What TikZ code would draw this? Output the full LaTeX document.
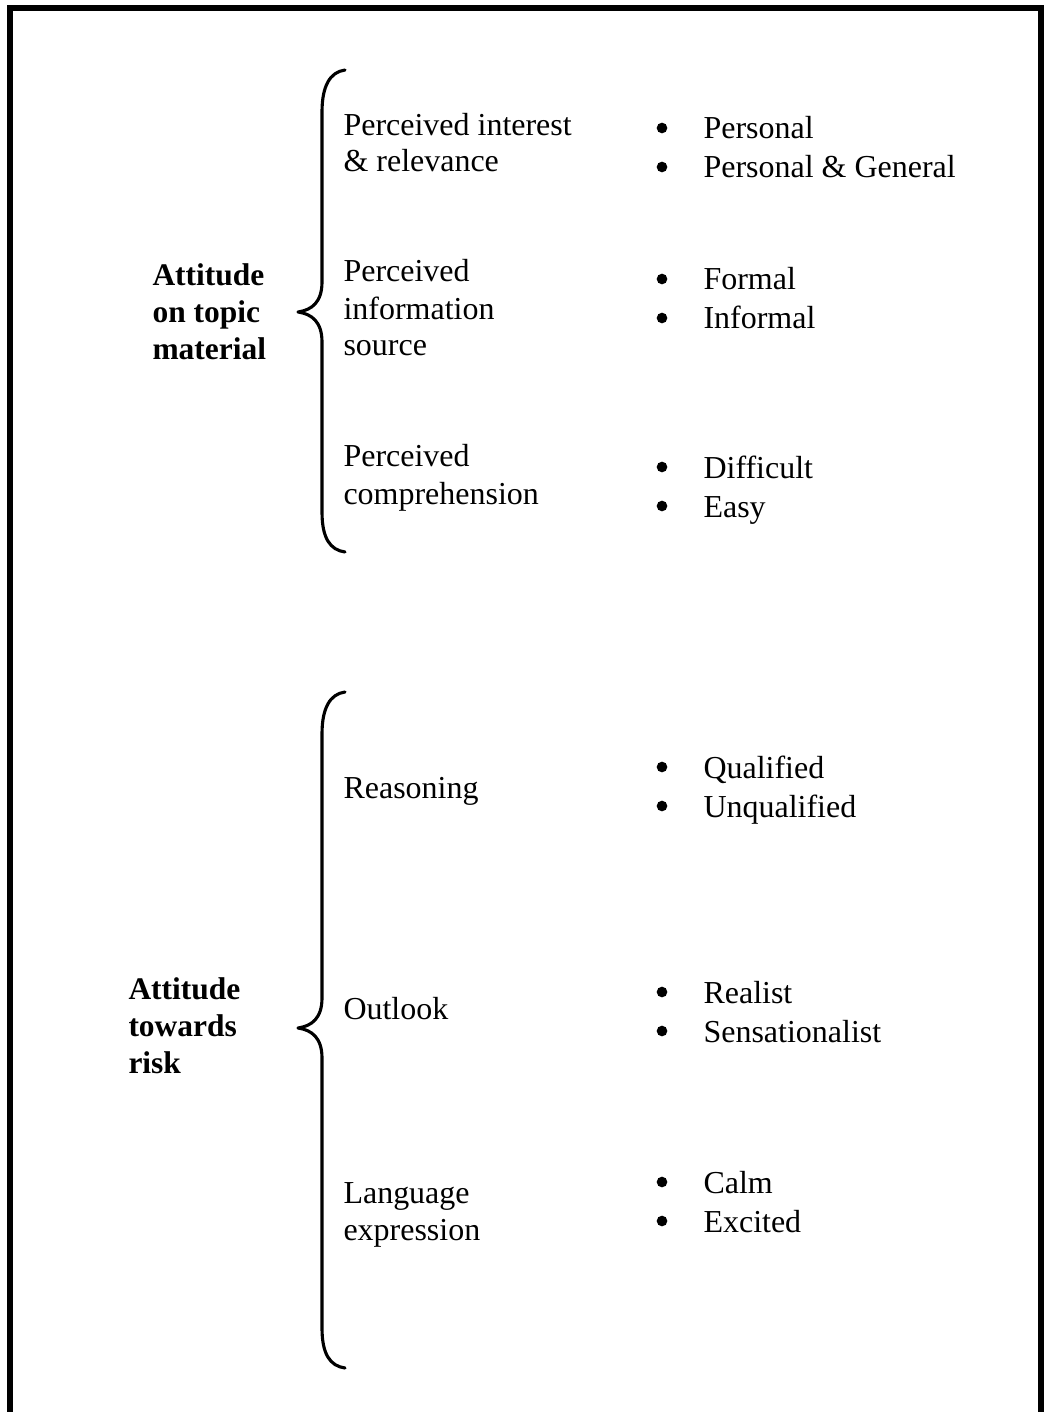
\documentclass[tikz,border=0pt]{standalone}
\usepackage{fontspec}
\setmainfont{Liberation Serif}
\begin{document}
\begin{tikzpicture}[x=0.3846pt,y=-0.3846pt,
  lbl/.style={anchor=base west,inner sep=0pt,font=\fontsize{12.3}{14}\selectfont},
  head/.style={anchor=base west,inner sep=0pt,font=\fontsize{12.1}{14}\selectfont\bfseries},
  bul/.style={circle,fill=black,inner sep=0pt,minimum size=4.1pt},
  brace/.style={line width=1.2pt,line cap=round,line join=round},
  frame/.style={line width=2.4pt}]
\useasboundingbox (0,0) rectangle (1044,1412);
\draw[frame] (10,1425) -- (10,8) -- (1041,8) -- (1041,1425);

% brace 1
\draw[brace] (345,70) .. controls (330,72) and (322,86) .. (322,112) -- (322,282)
  .. controls (322,302) and (312,310) .. (298,312)
  .. controls (312,314) and (322,322) .. (322,342) -- (322,512)
  .. controls (322,538) and (330,550) .. (345,552);
% brace 2
\draw[brace] (345,692) .. controls (330,694) and (322,708) .. (322,734) -- (322,998)
  .. controls (322,1018) and (312,1026) .. (298,1028)
  .. controls (312,1030) and (322,1038) .. (322,1058) -- (322,1328)
  .. controls (322,1354) and (330,1366) .. (345,1368);

% headings
\node[head] (h1a) at (152,286) {Attitude};
\node[head] (h1b) at (152,323) {on topic};
\node[head] (h1c) at (152,360) {material};
\node[head] (h2a) at (128,999) {Attitude};
\node[head] (h2b) at (128,1036) {towards};
\node[head] (h2c) at (128,1073) {risk};

% group 1 labels
\node[lbl] (a1) at (343,136) {Perceived interest};
\node[lbl] (a2) at (343,172) {\& relevance};
\node[lbl] (b1) at (343,282) {Perceived};
\node[lbl] (b2) at (343,320) {information};
\node[lbl] (b3) at (343,356) {source};
\node[lbl] (c1) at (343,467) {Perceived};
\node[lbl] (c2) at (343,504) {comprehension};

% group 2 labels
\node[lbl] (d1) at (343,798) {Reasoning};
\node[lbl] (e1) at (343,1019) {Outlook};
\node[lbl] (f1) at (343,1203) {Language};
\node[lbl] (f2) at (343,1240) {expression};

% bullets
\foreach \n/\y/\t in {p1/139/Personal, p2/178/Personal \& General,
  q1/290/Formal, q2/329/Informal,
  r1/478/Difficult, r2/517/Easy,
  s1/778/Qualified, s2/817/Unqualified,
  t1/1003/Realist, t2/1042/Sensationalist,
  u1/1193/Calm, u2/1232/Excited}{
  \node[bul] (\n b) at (662,\y-11) {};
  \node[lbl] (\n) at (703,\y) {\t};
}
\end{tikzpicture}
\end{document}
